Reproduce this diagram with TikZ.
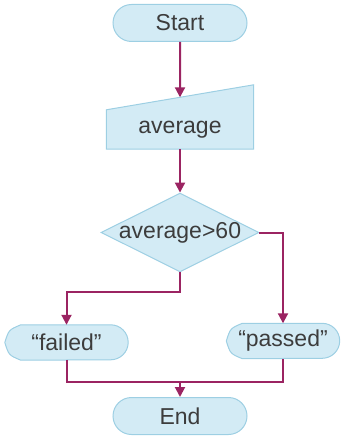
\documentclass[tikz,border=0pt]{standalone}
\usepackage{fontspec}
\setmainfont{Liberation Sans}
\usetikzlibrary{arrows.meta,shapes.geometric,shapes.misc,backgrounds}

\definecolor{boxfill}{HTML}{D3EBF5}
\definecolor{boxline}{HTML}{9DCFE3}
\definecolor{flowcol}{HTML}{9B2462}
\definecolor{textcol}{HTML}{3C3C3C}

\tikzset{
  label font/.style={text=textcol,font=\fontsize{23pt}{26pt}\selectfont},
  box/.style={label font,fill=boxfill,draw=boxline,line width=1pt},
  terminal/.style={box,rounded rectangle,minimum width=134pt,minimum height=37pt,inner sep=0pt},
  decision/.style={box,diamond,aspect=2,inner sep=-1pt},
  plain/.style={label font,inner sep=0pt},
  outline/.style={fill=boxfill,draw=boxline,line width=1pt},
  link/.style={draw=flowcol,line width=2pt},
  flow/.style={link,-{Triangle[length=10pt,width=10pt]}},
}

\begin{document}
\begin{tikzpicture}[x=1pt,y=1pt]
  \useasboundingbox (0,0) rectangle (341,-438);

  % Knoten
  \node[terminal] (start) at (180,-23) {Start};
  \node[plain,minimum width=147pt,minimum height=39pt] (avg) at (180,-129.5) {average};
  \node[decision] (dec) at (180,-232.5) {average>60};
  \node[plain,minimum width=123pt,minimum height=35pt] (failed) at (66.5,-342.5) {“failed”};
  \node[plain,minimum width=113pt,minimum height=35pt] (passed) at (283,-341) {“passed”};
  \node[terminal] (end) at (180,-416) {End};

  % Umrisse (Eingabe und Ausgabe)
  \begin{scope}[on background layer]
    \draw[outline] (avg.south west) -- (avg.south east) -- ([yshift=25pt]avg.north east)
      -- (avg.north west) -- cycle;
    \draw[outline] (failed.west) .. controls ([xshift=4pt,yshift=-5pt]failed.north west)
      .. ([xshift=16pt]failed.north west) -- ([xshift=-17.5pt]failed.north east)
      arc[start angle=90,end angle=-90,radius=17.5pt] -- ([xshift=16pt]failed.south west)
      .. controls ([xshift=4pt,yshift=5pt]failed.south west) .. (failed.west) -- cycle;
    \draw[outline] (passed.west) .. controls ([xshift=4pt,yshift=-5pt]passed.north west)
      .. ([xshift=16pt]passed.north west) -- ([xshift=-17.5pt]passed.north east)
      arc[start angle=90,end angle=-90,radius=17.5pt] -- ([xshift=16pt]passed.south west)
      .. controls ([xshift=4pt,yshift=5pt]passed.south west) .. (passed.west) -- cycle;
  \end{scope}

  % Hilfspunkte
  \path (avg.north west) -- ([yshift=25pt]avg.north east) coordinate[pos=0.5] (avgin);
  \coordinate (join) at (180,-382);

  % Verbindungen
  \draw[flow] (start) -- (avgin);
  \draw[flow] (avg) -- (dec);
  \draw[flow] (dec.east) -| (passed.north);
  \draw[flow] (dec.south) -- ++(0,-20) -| (failed.north);
  \draw[link] (failed.south) |- (join) -| (passed.south);
  \draw[flow] (join) -- (end);
\end{tikzpicture}
\end{document}
